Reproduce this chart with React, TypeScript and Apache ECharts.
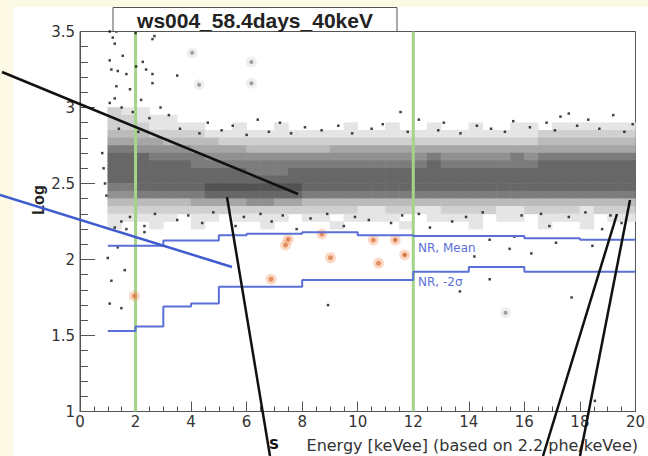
import { useEffect, useRef } from "react";
import * as echarts from "echarts";

// ---------- texts ----------
const TITLE = "ws004_58.4days_40keV";
const X_AXIS_TITLE = "Energy [keVee] (based on 2.2 phe/keVee)";
const Y_AXIS_TITLE = "Log";
const NR_MEAN_LABEL = "NR, Mean";
const NR_2SIGMA_LABEL = "NR, -2σ";

// ---------- axes ----------
const X_MIN = 0;
const X_MAX = 20;
const X_INTERVAL = 2;
const Y_MIN = 1;
const Y_MAX = 3.5;
const Y_INTERVAL = 0.5;

// ---------- analysis window (green vertical lines) ----------
const WINDOW_EDGES = [2, 12];

// ---------- NR band step lines ----------
const NR_MEAN_EDGES = [1, 3, 5, 6, 8, 10, 12, 16, 18, 20];
const NR_MEAN_VALUES = [2.09, 2.125, 2.16, 2.17, 2.18, 2.16, 2.155, 2.14, 2.13];
const NR_2SIGMA_EDGES = [1, 2, 3, 4, 5, 8, 12, 14, 16, 20];
const NR_2SIGMA_VALUES = [1.53, 1.56, 1.69, 1.71, 1.82, 1.865, 1.92, 1.95, 1.92];

// ---------- dense ER band: event density per cell (0-9) ----------
// columns: 0.5 keV from 1.0 to 20.0, rows: 0.05 from 3.00 (top) down to 2.20
const DENSITY_X0 = 1.0;
const DENSITY_DX = 0.5;
const DENSITY_Y_TOP = 3.0;
const DENSITY_DY = 0.05;
const DENSITY_ROWS = [
  "21 10 00 00 00 00 00 00 00 00 00 00 00 00 00 00 00 00 00",
  "22 11 10 00 00 00 00 00 00 00 00 00 00 00 00 00 00 00 00",
  "22 21 11 10 01 00 10 00 01 00 10 01 00 10 01 10 11 11 11",
  "33 32 22 21 11 11 11 11 11 11 11 11 11 11 11 12 22 22 22",
  "44 44 33 33 22 22 22 22 22 22 22 22 22 22 22 23 33 33 33",
  "66 55 55 44 44 33 33 33 44 44 44 44 44 44 44 44 44 44 44",
  "77 76 66 65 55 55 55 55 55 55 55 56 55 55 56 56 66 66 66",
  "77 77 77 66 66 66 66 66 66 66 66 67 66 66 66 67 77 77 77",
  "77 77 77 77 77 66 67 77 77 77 77 77 77 77 77 77 77 77 77",
  "77 77 77 77 77 77 77 77 77 77 77 77 77 77 77 77 77 77 77",
  "66 77 77 78 88 88 88 77 77 77 77 77 77 77 77 77 77 77 77",
  "55 66 66 67 77 77 77 66 66 66 66 66 66 66 66 66 66 66 66",
  "33 33 33 44 44 55 44 33 33 33 33 33 33 33 33 33 33 33 33",
  "22 22 22 22 22 22 22 22 22 11 22 11 22 22 11 22 22 12 22",
  "11 11 10 11 01 11 10 11 01 11 10 01 11 10 11 01 11 10 11",
  "10 01 00 10 00 01 00 00 10 00 01 00 00 10 00 01 00 10 00",
];

// ---------- sparse events (keV, value) ----------
const SPARSE_EVENTS: number[][] = [
  [1.07, 3.5], [1.31, 3.5], [2.0, 3.49], [2.68, 3.47], [1.18, 3.46], [2.61, 3.45],
  [1.25, 3.42], [1.54, 3.34], [2.26, 3.3], [1.07, 3.31], [2.02, 3.27], [1.13, 3.25],
  [1.36, 3.24], [2.38, 3.25], [1.67, 3.22], [2.61, 3.22], [3.5, 3.21], [1.31, 3.14],
  [2.61, 3.16], [1.25, 3.06], [1.07, 3.03], [1.9, 2.97], [1.5, 3.0], [2.2, 3.05],
  [1.8, 3.12], [2.9, 3.0], [0.85, 2.6], [0.9, 2.5], [0.8, 2.7], [0.95, 2.42],
  [11.54, 2.97], [12.2, 2.92], [14.29, 2.88], [17.6, 2.96], [17.3, 2.94], [19.9, 2.89],
  [10.9, 2.89], [16.8, 2.9], [18.3, 2.92], [5.5, 2.88], [7.2, 2.9], [3.2, 2.95],
  [9.3, 2.88], [13.1, 2.9], [15.6, 2.91], [19.2, 2.95], [6.4, 2.92], [8.1, 2.87],
  [4.6, 2.9], [2.5, 2.93],
  [1.4, 2.86], [2.1, 2.84], [3.6, 2.86], [4.3, 2.83], [5.1, 2.85], [6.0, 2.82],
  [6.8, 2.84], [7.6, 2.83], [8.7, 2.85], [9.8, 2.83], [10.5, 2.86], [11.8, 2.84],
  [12.9, 2.85], [13.7, 2.83], [14.8, 2.86], [15.3, 2.84], [16.2, 2.87], [17.1, 2.85],
  [17.9, 2.88], [18.7, 2.86], [19.6, 2.84],
  [1.8, 2.28], [2.7, 2.3], [3.9, 2.29], [4.8, 2.31], [5.9, 2.28], [6.5, 2.3],
  [7.3, 2.29], [8.9, 2.3], [9.9, 2.28], [11.6, 2.29], [12.2, 2.3], [13.9, 2.28],
  [14.5, 2.31], [15.9, 2.29], [16.6, 2.3], [17.6, 2.28], [18.2, 2.31], [19.1, 2.29],
  [1.25, 2.21], [1.49, 2.25], [1.67, 2.2], [2.32, 2.18], [2.32, 2.22], [1.36, 2.08],
  [1.0, 2.01], [14.75, 2.13], [15.64, 2.15], [17.14, 2.11], [18.45, 2.09], [16.25, 2.04],
  [15.47, 2.07], [14.2, 2.02], [3.5, 2.26], [4.4, 2.24], [6.9, 2.25], [9.5, 2.22],
  [11.2, 2.24], [12.6, 2.21], [13.4, 2.25], [16.9, 2.22], [18.8, 2.2], [19.5, 2.24],
  [8.3, 2.27], [10.4, 2.26], [5.6, 2.22], [7.8, 2.2],
  [1.61, 1.93], [1.13, 1.86], [1.07, 1.71], [1.49, 1.68], [8.93, 1.7], [13.68, 1.79],
  [14.75, 1.87], [17.7, 1.75], [18.54, 1.07], [11.35, 2.13], [11.69, 2.03],
];

// faint grey events with halo
const FAINT_EVENTS: number[][] = [
  [6.17, 3.3], [6.17, 3.16], [4.29, 3.15], [4.04, 3.36], [15.32, 1.65],
];

// candidate events (orange)
const CANDIDATE_EVENTS: number[][] = [
  [7.5, 2.133], [7.4, 2.095], [8.71, 2.168], [10.56, 2.128], [11.35, 2.128],
  [9.02, 2.012], [10.75, 1.975], [11.69, 2.03], [6.88, 1.87], [1.96, 1.76],
];

const stepData = (edges: number[], values: number[]) =>
  edges.map((e, i) => [e, values[Math.min(i, values.length - 1)]]);

const densityData: number[][] = [];
DENSITY_ROWS.forEach((row, r) => {
  const digits = row.replace(/\s/g, "");
  for (let c = 0; c < digits.length; c++) {
    const v = Number(digits[c]);
    if (v > 0) {
      densityData.push([
        DENSITY_X0 + c * DENSITY_DX,
        DENSITY_Y_TOP - (r + 1) * DENSITY_DY,
        v,
      ]);
    }
  }
});

const gray = (v: number) => {
  const g = Math.round(250 - v * 21);
  return `rgb(${g},${g},${g})`;
};

export default function App() {
  const ref = useRef<HTMLDivElement>(null);

  useEffect(() => {
    if (!ref.current) return;
    const chart = echarts.init(ref.current, undefined, { renderer: "svg" });
    const tickFont = {
      color: "#333",
      fontSize: 15,
      fontFamily: "DejaVu Sans",
    };
    const option: any = {
      animation: false,
      backgroundColor: "transparent",
      grid: {
        left: 80,
        right: 8,
        top: 31.5,
        bottom: 44.5,
        show: true,
        borderColor: "#555",
        borderWidth: 1,
        backgroundColor: "transparent",
      },
      xAxis: {
        type: "value",
        min: X_MIN,
        max: X_MAX,
        interval: X_INTERVAL,
        axisLine: { lineStyle: { color: "#555", width: 1 } },
        axisTick: { inside: true, length: 10, lineStyle: { color: "#555" } },
        minorTick: { show: true, splitNumber: 4, length: 5, lineStyle: { color: "#555" } },
        splitLine: { show: false },
        axisLabel: { ...tickFont, margin: 3 },
      },
      yAxis: {
        type: "value",
        min: Y_MIN,
        max: Y_MAX,
        interval: Y_INTERVAL,
        axisLine: { lineStyle: { color: "#555", width: 1 } },
        axisTick: { inside: true, length: 15, lineStyle: { color: "#555" } },
        minorTick: { show: true, splitNumber: 5, length: 8, lineStyle: { color: "#555" } },
        splitLine: { show: false },
        axisLabel: { ...tickFont, margin: 5 },
      },
      series: [
        {
          type: "custom",
          name: "ER band",
          data: densityData,
          encode: { x: 0, y: 1 },
          z: 1,
          silent: true,
          renderItem: (_params: any, api: any) => {
            const x0 = api.value(0);
            const y0 = api.value(1);
            const v = api.value(2);
            const p0 = api.coord([x0, y0 + DENSITY_DY]);
            const p1 = api.coord([x0 + DENSITY_DX, y0]);
            return {
              type: "rect",
              shape: {
                x: p0[0] - 0.3,
                y: p0[1] - 0.3,
                width: p1[0] - p0[0] + 0.6,
                height: p1[1] - p0[1] + 0.6,
              },
              style: { fill: gray(v) },
            };
          },
        },
        ...WINDOW_EDGES.map((x) => ({
          type: "line",
          data: [
            [x, Y_MIN],
            [x, Y_MAX],
          ],
          symbol: "none",
          lineStyle: { color: "#a3d487", width: 3 },
          z: 3,
          silent: true,
        })),
        {
          type: "scatter",
          name: "events",
          data: SPARSE_EVENTS,
          symbol: "rect",
          symbolSize: 2.5,
          itemStyle: { color: "#111" },
          z: 4,
        },
        {
          type: "scatter",
          name: "faint halo",
          data: FAINT_EVENTS,
          symbolSize: 11,
          itemStyle: { color: "rgba(190,190,190,0.3)" },
          z: 4,
        },
        {
          type: "scatter",
          name: "faint",
          data: FAINT_EVENTS,
          symbolSize: 4,
          itemStyle: { color: "#8a8a8a" },
          z: 4,
        },
        {
          type: "scatter",
          name: "candidate halo",
          data: CANDIDATE_EVENTS,
          symbolSize: 11,
          itemStyle: { color: "rgba(240,150,100,0.45)" },
          z: 5,
        },
        {
          type: "scatter",
          name: "candidates",
          data: CANDIDATE_EVENTS,
          symbolSize: 5,
          itemStyle: { color: "#e07a45" },
          z: 5,
        },
        {
          type: "line",
          name: NR_MEAN_LABEL,
          data: stepData(NR_MEAN_EDGES, NR_MEAN_VALUES),
          step: "end",
          symbol: "none",
          lineStyle: { color: "#5a6fd8", width: 2 },
          z: 6,
        },
        {
          type: "line",
          name: NR_2SIGMA_LABEL,
          data: stepData(NR_2SIGMA_EDGES, NR_2SIGMA_VALUES),
          step: "end",
          symbol: "none",
          lineStyle: { color: "#5a6fd8", width: 2 },
          z: 6,
        },
      ],
      graphic: [
        {
          type: "rect",
          shape: { x: 113, y: 7.5, width: 284, height: 24 },
          style: { fill: "#ffffff", stroke: "#555", lineWidth: 1 },
          z: 100,
        },
        {
          type: "text",
          x: 255,
          y: 20,
          style: {
            text: TITLE,
            fontSize: 21,
            fontWeight: "bold",
            fontFamily: "Liberation Sans",
            fill: "#222",
            align: "center",
            verticalAlign: "middle",
          },
          z: 101,
        },
        {
          type: "text",
          x: 418,
          y: 248,
          style: {
            text: NR_MEAN_LABEL,
            fontSize: 12,
            fontFamily: "DejaVu Sans",
            fill: "#5a6fd8",
            align: "left",
            verticalAlign: "middle",
          },
          z: 101,
        },
        {
          type: "text",
          x: 418,
          y: 282,
          style: {
            text: NR_2SIGMA_LABEL,
            fontSize: 12,
            fontFamily: "DejaVu Sans",
            fill: "#5a6fd8",
            align: "left",
            verticalAlign: "middle",
          },
          z: 101,
        },
        {
          type: "text",
          x: 638,
          y: 445,
          style: {
            text: X_AXIS_TITLE,
            fontSize: 16,
            fontFamily: "DejaVu Sans",
            fill: "#333",
            align: "right",
            verticalAlign: "middle",
          },
          z: 101,
        },
        {
          type: "text",
          x: 38,
          y: 200,
          rotation: Math.PI / 2,
          style: {
            text: Y_AXIS_TITLE,
            fontSize: 16,
            fontWeight: "bold",
            fontFamily: "Liberation Sans",
            fill: "#222",
            align: "center",
            verticalAlign: "middle",
          },
          z: 101,
        },
        {
          type: "line",
          shape: { x1: 0, y1: 195, x2: 232, y2: 267 },
          style: { stroke: "#3f5bd0", lineWidth: 2.5 },
          z: 110,
        },
        {
          type: "line",
          shape: { x1: 2, y1: 72, x2: 298, y2: 194 },
          style: { stroke: "#111", lineWidth: 2.5 },
          z: 110,
        },
        {
          type: "line",
          shape: { x1: 227, y1: 197, x2: 270, y2: 456 },
          style: { stroke: "#111", lineWidth: 2.5 },
          z: 110,
        },
        {
          type: "line",
          shape: { x1: 617, y1: 214, x2: 543, y2: 456 },
          style: { stroke: "#111", lineWidth: 2.5 },
          z: 110,
        },
        {
          type: "line",
          shape: { x1: 630, y1: 200, x2: 580, y2: 456 },
          style: { stroke: "#111", lineWidth: 2.5 },
          z: 110,
        },
        {
          type: "text",
          x: 274,
          y: 444,
          style: {
            text: "S",
            fontSize: 14,
            fontWeight: "bold",
            fontFamily: "DejaVu Sans",
            fill: "#111",
            align: "center",
            verticalAlign: "middle",
          },
          z: 110,
        },
      ],
    };
    chart.setOption(option);
    return () => chart.dispose();
  }, []);

  return (
    <div
      style={{
        position: "fixed",
        left: 0,
        top: 0,
        width: 648,
        height: 456,
        background: "#fcf9e4",
        overflow: "hidden",
      }}
    >
      <div
        style={{
          position: "absolute",
          left: 13,
          top: 7,
          right: 0,
          bottom: 0,
          background: "#ffffff",
        }}
      />
      <div
        ref={ref}
        style={{ position: "absolute", left: 0, top: 0, width: 648, height: 456 }}
      />
    </div>
  );
}
